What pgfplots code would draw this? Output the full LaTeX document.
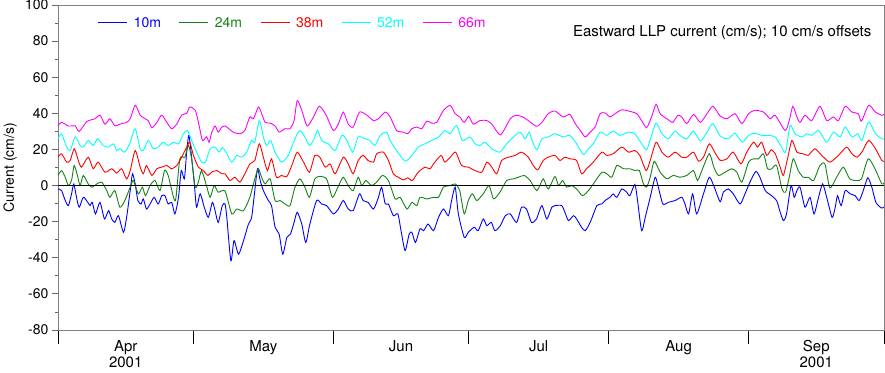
\documentclass[border=0pt]{standalone}
\usepackage{pgfplots}
\pgfplotsset{compat=1.18}
\usepackage{fontspec}
\setmainfont{TeX Gyre Heros}
\definecolor{mygreen}{RGB}{20,130,20}
\definecolor{myblue}{RGB}{0,0,255}
\definecolor{myred}{RGB}{255,0,0}
\definecolor{mycyan}{RGB}{0,255,255}
\definecolor{mymagenta}{RGB}{255,0,255}
\begin{document}
\begin{tikzpicture}
\begin{axis}[
 at={(58pt,42pt)}, anchor=south west,
 scale only axis, width=826pt, height=325pt,
 xmin=0, xmax=183, ymin=-80, ymax=100,
 clip=false,
 axis line style={black!50, line width=0.8pt},
 xtick={0,30,61,91,122,153,183}, xticklabels={},
 ytick={-80,-60,...,100}, minor y tick num=1,
 tick align=outside, tick pos=left,
 major tick length=6pt, minor tick length=3.5pt,
 xtick style={/pgfplots/major tick length=14pt, black, line width=0.8pt},
 ytick style={black!60, line width=0.8pt},
 yticklabel style={font=\fontsize{14}{16}\selectfont},
 /pgf/number format/assume math mode=true,
 ylabel={Current (cm/s)},
 every axis y label/.style={at={(axis description cs:-0.058,0.5)}, rotate=90, anchor=center, font=\fontsize{14}{16}\selectfont},
 legend style={at={(0.048,0.945)}, anchor=west, draw=none, fill=none, inner sep=0pt, legend columns=5, font=\fontsize{14}{16}\selectfont, /tikz/every odd column/.style={column sep=4pt}, /tikz/every even column/.style={column sep=16pt}},
 legend image code/.code={\draw[#1] (0pt,0pt) -- (29pt,0pt);},
 every axis plot/.append style={line width=0.9pt},
]
% 10m
\addplot[myblue, smooth, tension=0.4] coordinates {
(0,-1.9)(0.8,-2.8)(1.6,-8.3)(2.3,-11.1)(3,-4.6)(3.5,0.9)(4.1,-6.5)(4.7,-12)(5.6,-6.5)(6.6,-9.3)(7.1,-11.1)(7.6,-9.3)(8.3,-15.7)(9.3,-9.3)(10.3,-18.5)(11.2,-13.9)(11.9,-18.5)(12.6,-20.4)(13.4,-16.7)(14.5,-25.9)(15.2,-17.6)(16,-2.8)(16.5,6.5)(17.1,0.9)(17.7,-8.3)(18.4,-10.2)(18.9,-7.4)(19.6,-13)(20.4,-10.2)(21.3,-6.5)(22.2,-10.2)(23,-5.6)(23.7,-5.6)(24.4,-10.2)(25.2,-9.3)(25.9,-15.7)(26.7,-6.5)(27.3,8.3)(28,3.7)(28.5,18.5)(29,27.8)(29.6,15.7)(30.2,0.9)(30.7,-12)(31.5,-4.6)(32.4,-12)(33.3,-17.6)(34.2,-9.3)(34.8,-13.9)(35.5,-20.4)(36.4,-11.1)(37,-10.2)
(37.4,-17.6)(38.3,-41.7)(39,-30.5)(40,-38)(41.1,-30.5)(42.2,-21.3)(42.9,-17.6)(43.6,-2.8)(44.2,9.3)(44.8,2.8)(45.5,-2.8)(46.6,-8.3)(47.3,-11.1)(48.1,-23.1)(49,-26.9)(49.8,-38)(50.7,-28.7)(51.5,-26.9)(52.3,-20.4)(53,-14.8)(54,-21.3)(54.9,-31.5)(55.8,-21.3)(57.3,-8.3)(58.4,-10.2)(59.5,-11.1)(61,-15.7)(62.1,-13)(63.2,-8.3)(64.3,-13)(65.4,-13.9)(66.8,-4.6)(67.6,-8.3)(68.7,-9.3)(69.9,-13)(71,-6.5)(71.7,-0.9)(72.5,-10.2)(73.2,-10.2)
(74.3,-16.7)(75.3,-15.7)(76,-25)(76.9,-36)(77.8,-26.9)(78.4,-25.9)(79.2,-31.5)(80.2,-24)(81,-25)(82,-21.3)(83.2,-25)(84.3,-17.6)(85.4,-13)(86.5,-16.7)(87.2,-8.3)(88,-0.9)(88.7,-15.7)(90,-28.7)(90.9,-25.9)(92.2,-23.1)(93.1,-25)(94.2,-18.5)(95,-22.2)(96,-20.4)(96.8,-25)(98,-22.2)(99.1,-16.7)(100.2,-15.7)(101.6,-20.4)(102.7,-12)(103.8,-13)(104.9,-20.4)(106,-18.5)(107.2,-11.1)(108.3,-18.5)(109.4,-12)(110.1,-11.1)
(111.6,-11.1)(112.3,-14.8)(113.1,-19.4)(114.2,-16.7)(114.9,-18.5)(116,-23.1)(116.8,-25)(117.9,-20.4)(119.4,-11.1)(120.5,-10.2)(121.2,-8.3)(122.3,-6.5)(123,-4.6)(123.8,-6.5)(124.9,-1.9)(126,-3.7)(126.7,-5.6)(127.8,0.6)(128.4,-8.3)(129.3,-25)(130.1,-17.6)(131.2,-6.5)(132.3,4.6)(133,-0.9)(134,-10.2)(135.2,-9.3)(136.7,-8.3)(138.2,-6.5)(138.9,-10.2)(139.7,-15.7)(140.6,-4.6)(141.5,-15.7)(143,-4.6)(144.3,4.6)(145.4,-0.9)(146.7,-9)
(147.4,-3.7)(148.5,-1.9)(149.6,-4.6)(151.1,-10.2)(152.2,-4.6)(153.3,1.9)(154.6,7.8)(155.5,4.6)(156.7,-2.8)(158.1,-5.6)(159.2,-8.3)(159.9,-13.9)(160.7,-19.4)(161.4,-15.7)(162.4,0)(163.1,-6.5)(163.7,-2.8)(164.4,-0.9)(165.5,-12)(166.6,-6.5)(167.5,-15.7)(168.5,-6.5)(169.4,0.9)(170.3,-6.5)(171.5,-17.6)(172.2,-12)(172.7,-5.6)(173.5,-11.1)(174.4,-2.8)(175.5,-4.6)(176.6,-5.6)(177.5,-8.3)(178.4,-2.8)(179.4,4.3)(180.3,-0.9)(181.2,-9.3)(182.4,-12.4)(183,-12)
};
\addlegendentry{\textcolor{myblue}{10m}}
% 24m
\addplot[mygreen, smooth, tension=0.4] coordinates {
(0,5.6)(0.8,8.3)(1.6,4.6)(2.3,0)(3,2.8)(3.6,11.1)(4.4,4.6)(4.9,0)(5.6,5.6)(6.7,0.9)(7.5,-0.9)(8.6,0.9)(9.7,1.9)(10.8,-2.8)(11.5,-6.5)(12.6,-2.8)(13.7,-12)(14.8,-8.3)(16,-0.9)(16.7,2.8)(17.8,-4.6)(18.7,-0.9)(19.4,-5.6)(20.4,0)(21.5,2.8)(22.6,-2.8)(23.6,8.3)(24.4,5.6)(25.6,-6.5)(26.1,-7.4)(27,14.8)(28.1,15.7)(28.9,22.2)(29.6,14.8)(30.4,-0.9)(31.1,1.9)(31.8,8.3)(32.9,0)(33.7,-6.5)(34.6,0)(35.5,-3.7)(37,-3)
(38.5,-15.7)(39.6,-13)(41.1,-13.9)(42.5,-6.5)(43.6,3.7)(44.4,9.3)(45.1,4.6)(45.9,0.9)(47,3.7)(48.1,-8.3)(49.2,-8.3)(50.3,-10.2)(51.4,-11.1)(52.5,-0.9)(53.6,3.7)(54.7,-0.9)(55.7,-6.5)(56.9,3.7)(58,5)(59.5,3.7)(60.8,-6.5)(62,-0.9)(63.2,4.6)(64.3,0)(65.4,-2.8)(66.5,4.6)(67.3,0)(68.2,2.8)(69.5,0)(70.6,1.9)(71.9,5.6)(73.2,2.8)
(74.7,-7.4)(75.8,-6.5)(77.3,-13)(78.4,-9.3)(79.5,-11.1)(80.2,-6.5)(81.7,-7.4)(83.2,-6.5)(84.3,-6.5)(85.4,-0.9)(86.9,0)(88,0.9)(89,-2.8)(90,-15.7)(90.9,-8.3)(91.8,-4.6)(92.8,-8.3)(94.2,-4.6)(95.5,0)(96.5,-7.4)(97.9,-3.7)(99.4,2.8)(100.9,3.7)(102,4.6)(103.3,5.6)(104.6,2.8)(106.1,-2.8)(107.5,3.7)(108.6,-1.9)(110.1,5)
(110.9,0)(111.8,2.8)(112.7,-0.9)(113.8,0)(114.9,-1.9)(116.2,-5.6)(117.5,-2.8)(118.6,0.9)(120.5,7.4)(121.6,6.5)(122.7,4.6)(123.8,11.1)(125.3,9.3)(126.7,9.3)(127.8,8.3)(128.8,8.3)(129.7,0.9)(130.4,-0.9)(131.2,4.6)(132.1,13.5)(133.4,7.4)(134.9,3.7)(136.3,5.6)(137.8,4.6)(139.3,5.6)(140.8,8.3)(141.7,2.8)(142.8,9.3)(144.3,17.6)(145.3,10.2)(146.3,5.6)
(147.8,7.4)(149.3,9.3)(150.4,7.4)(151.5,1.9)(153,13)(154.1,14.8)(155.2,14.8)(156.3,17.6)(157.2,9.3)(158.1,9.3)(159.2,11.1)(160.4,-1.9)(161.2,-3.7)(162,4.6)(162.9,14.8)(164,8.3)(165.1,4.6)(166.2,4.6)(167.4,2.8)(168.8,11.1)(169.9,12)(171,-1.3)(172.5,4.6)(174,10.2)(175.4,3.7)(176.9,2.8)(178,3.7)(179.5,14.8)(181,9.3)(182.5,0.9)(183,1.5)
};
\addlegendentry{\textcolor{mygreen}{24m}}
% 38m
\addplot[myred, smooth, tension=0.4] coordinates {
(0,15.7)(0.8,17.6)(1.9,13)(2.7,13.9)(3.6,20.4)(4.5,13.9)(5.2,10.2)(6.7,15.7)(7.8,9.3)(8.9,13)(10.4,7.4)(11.9,9.3)(13,6.9)(14.1,9.3)(15.2,3.7)(16,8.3)(17.1,19.4)(18.2,10.2)(18.9,6.5)(19.6,11.1)(20.8,5.6)(21.9,9.3)(23,10.2)(24.1,11.1)(25.2,9.3)(26.3,11.1)(27.4,15.7)(28.5,21.3)(29.2,24)(30,16.7)(31.1,10.2)(32.2,8.3)(33.2,5.6)(34,7.4)(35.2,8.3)(36.3,6.5)(37,6.5)
(38.1,2.8)(39.2,4.6)(40.3,1.9)(41.4,6.5)(42.5,12)(43.6,13.9)(44.6,23.1)(45.5,15.7)(46.4,8.3)(47.3,14.8)(48.4,4.6)(49.5,5.6)(50.7,5)(51.8,11.1)(53,18.5)(54.4,13)(55.7,7.4)(56.9,16.7)(58,15.7)(59.2,10.2)(60.3,12)(61.4,6.5)(63.2,15.7)(64.3,12)(65.4,6.5)(66.5,13.9)(67.6,16.7)(68.7,13.9)(69.9,13)(70.6,17.6)(72.1,18.5)(73.2,13.9)
(74.3,6.5)(75.4,4.6)(76.5,3.1)(77.5,4.3)(78.5,2.8)(79.8,7.4)(81.3,10.2)(82.4,9.3)(83.5,13)(84.9,16.7)(85.7,13)(86.9,15.7)(88.1,18.5)(89.4,11.1)(90.9,10.2)(92.4,8.3)(93.9,7.4)(95,13)(96.1,10.2)(97.2,6.5)(98.3,13.9)(99.8,15.7)(101.3,16.7)(102.7,18.5)(104.2,15.7)(105.3,11.1)(106.3,8.7)(107.5,13.9)(108.6,15.7)(110.1,16.7)
(111.2,13.9)(112.3,15.7)(113.4,14.8)(114.9,13.9)(116,6.5)(117.1,9.3)(118.6,13)(120.5,18.5)(121.6,16.7)(123,17.6)(124.9,21.3)(126.4,18.5)(127.8,19.4)(128.9,16.7)(130.3,8.3)(131.2,13.9)(132.5,24)(133.8,18.5)(135.2,15.7)(136.7,18.5)(138.2,15.7)(139.3,15.7)(140.8,18.5)(141.9,13.5)(143,15.7)(144.3,23.1)(145.6,18)(146.7,14)
(148.2,14.8)(149.6,18.5)(151.3,12)(152.6,18.5)(154.1,24)(155,21.3)(155.9,24)(157,16.7)(158,19.8)(158.9,17.6)(160,10.2)(160.7,5.6)(161.7,15.7)(162.6,25)(163.7,18.5)(165.1,17.6)(166.2,16.7)(167.7,20.4)(169.2,16.7)(171,13)(172.9,16.7)(174.7,21.3)(175.9,17.6)(177,15.7)(178.1,18.5)(179.6,25)(181.1,20.4)(182.5,13.9)(183,13.5)
};
\addlegendentry{\textcolor{myred}{38m}}
% 52m
\addplot[mycyan, smooth, tension=0.4] coordinates {
(0,25.9)(0.8,28.7)(1.9,21.3)(2.7,19.4)(3.8,26.9)(4.9,22.2)(5.6,21.3)(6.7,25)(7.8,22.2)(8.8,25.9)(10,22.2)(11.2,21.3)(12.3,23.1)(13,19.4)(13.7,20.4)(14.8,18.5)(16,24)(17.1,31.5)(18.2,20.4)(18.9,19.4)(20,25)(21.1,20.4)(22.2,21.3)(23.3,24)(24.4,22.2)(25.6,24)(26.7,23.1)(27.8,28.7)(28.7,30.5)(29.6,25)(30.7,18.5)(31.8,13)(32.7,13)(33.7,20.4)(34.8,21.3)(35.7,18.5)(36.4,21)(37.2,18.5)
(38.5,13)(39.6,16.7)(40.7,15.7)(41.8,18.5)(42.9,25)(43.6,24)(44.6,36)(45.5,26.9)(46.2,22.2)(47.1,25)(48.1,18.5)(49.5,13)(51,16.7)(52.5,25.9)(53.6,30.5)(54.7,26.9)(55.7,22.2)(56.6,25)(57.5,30.5)(58.4,25)(59.9,23.1)(61.4,19.4)(62.9,27.8)(64,25)(65.3,18.5)(66.5,26.9)(68,25.9)(69.1,25)(70.2,22.2)(71.4,27.8)(72.8,29.6)
(73.6,25)(75,19.4)(76.9,13.5)(78.4,16.7)(79.8,21.3)(81.3,23.1)(82.8,25)(84.3,26.9)(85.7,30.5)(86.9,28.7)(88.3,33.3)(89.6,25)(91.3,26.9)(92.4,23.1)(93.5,22.2)(94.6,24)(96.1,20.4)(97.9,18.5)(99.4,23.1)(100.9,26.9)(102.4,29.6)(103.5,25.9)(104.4,29.6)(105,25)(106.1,19.8)(107.2,25.9)(108.6,26.9)(110.1,28.7)
(111.9,26.9)(113.4,27.8)(114.9,23.1)(116.4,17.2)(117.5,20.4)(118.6,23.1)(120.1,29.6)(121.6,27.8)(123,30.2)(124.5,27.8)(126.4,29.6)(127.8,28.7)(129.3,23.1)(130.4,19.8)(131.4,26.9)(132.5,34.6)(133.8,28.7)(135.2,25.9)(136.7,30.2)(137.8,27.8)(139.3,25.9)(140.8,30.2)(142.3,24.6)(143.8,29.6)(145.1,34.3)(146.7,27.5)
(148.5,25.9)(150,29)(151.6,24)(153,27.8)(154.3,29)(155.9,27.8)(157.4,27.8)(158.9,26.9)(160.3,21.3)(161.2,18.5)(162.2,33.3)(163.3,28.7)(164.8,26.9)(165.9,28.7)(167,27.8)(168.5,30.5)(170.3,24)(171.8,29.6)(173.3,26.9)(174.4,32.4)(175.9,26.9)(177.2,28.7)(178.1,25)(179.6,35.2)(181.1,28.7)(182.5,25.9)(183,25.9)
};
\addlegendentry{\textcolor{mycyan}{52m}}
% 66m
\addplot[mymagenta, smooth, tension=0.4] coordinates {
(0,33)(0.8,35)(2.3,33)(3.8,33)(4.7,30)(6.4,35.5)(8.2,37)(9.3,39)(10.4,34)(11.5,37)(12.6,33)(13.7,34)(15.2,35)(16,37)(17.1,44.5)(18.2,39)(19.3,37)(20,36)(20.8,32)(21.9,35)(23,39)(24.1,35)(25.2,31.5)(26.3,34)(27.4,39)(28.5,40)(29.2,43.5)(30.4,41.7)(31.2,34)(32,25)(32.9,27)(33.5,24)(34,29)(34.8,33)(35.5,29.6)(36.3,32.4)(37,33)
(37.4,32.4)(38.8,29.6)(40.3,28.7)(41.4,30.5)(42.5,38)(43.3,37)(44.4,43.5)(45.1,40)(45.9,35)(47,34.6)(48.1,33)(49,29.6)(50.3,31.5)(51.4,31.5)(52.3,36)(53,47)(54,41.7)(55.2,33)(56.6,38)(57.9,44)(59.4,39)(61,30.5)(62.1,34)(63.2,40.7)(64.3,34)(65.4,32.4)(66.8,40.7)(68.4,39)(69.9,36)(71,37)(72.5,40.7)
(73.6,38)(75,30.5)(76.5,29.6)(77.5,28.7)(78.4,31.5)(79.5,32.4)(80.6,31.5)(81.7,35.7)(82.8,34.6)(83.9,35)(85.4,41.7)(86.9,44.4)(88,39.8)(89,38)(90,35)(91,38.3)(92,34)(93.5,36)(95,36)(96.1,34)(97.9,28)(99,31.5)(100.2,37)(101.3,38.9)(102.7,38.3)(104.2,36)(106,32.8)(107.2,35)(108.6,39.8)(110.1,41.3)
(111.9,38)(113.4,39.4)(114.6,34.3)(115.7,30.5)(116.8,26.9)(117.9,29.6)(119,32.4)(120.1,39.8)(121.2,40.2)(122.3,38)(123.4,39.8)(124.9,42)(126.4,41.3)(128.2,39.8)(129.3,36)(130.4,32)(131.5,38)(132.5,45)(133.4,39.8)(134.9,37)(136.2,35)(137.3,38.9)(138.2,38)(139.3,34.3)(140.8,39.4)(142.3,35)(143.8,39.8)(145.1,43.9)(146.7,38.5)
(148.2,37)(150,39.8)(151.5,34.3)(153,39.8)(154.4,41.7)(156.3,40.7)(157.8,37)(158.9,38.9)(161.1,30.5)(162,36)(162.8,43.9)(163.7,38)(164.4,35)(165.5,38.9)(167,36)(168.8,43.9)(170.3,36)(171.8,38)(172.9,36)(174.4,43.9)(175.9,40.7)(177.3,39.8)(178,35.7)(179.6,44.4)(181.1,40.7)(182.5,38.9)(183,39.4)
};
\addlegendentry{\textcolor{mymagenta}{66m}}
\addplot[black, forget plot, line width=0.9pt] coordinates {(0,0) (183,0)};
\node[anchor=east, font=\fontsize{15}{17}\selectfont] at (rel axis cs:0.989,0.914) {Eastward LLP current (cm/s); 10 cm/s offsets};
\node[anchor=north, align=center, inner sep=0pt, yshift=-10pt, font=\fontsize{15}{16.5}\selectfont] at (axis cs:15,-80) {Apr\\2001};
\node[anchor=north, align=center, inner sep=0pt, yshift=-10pt, font=\fontsize{15}{16.5}\selectfont] at (axis cs:45.5,-80) {May};
\node[anchor=north, align=center, inner sep=0pt, yshift=-10pt, font=\fontsize{15}{16.5}\selectfont] at (axis cs:76,-80) {Jun};
\node[anchor=north, align=center, inner sep=0pt, yshift=-10pt, font=\fontsize{15}{16.5}\selectfont] at (axis cs:106.5,-80) {Jul};
\node[anchor=north, align=center, inner sep=0pt, yshift=-10pt, font=\fontsize{15}{16.5}\selectfont] at (axis cs:137.5,-80) {Aug};
\node[anchor=north, align=center, inner sep=0pt, yshift=-10pt, font=\fontsize{15}{16.5}\selectfont] at (axis cs:168,-80) {Sep\\2001};
\end{axis}
\pgfresetboundingbox
\useasboundingbox (0,0) rectangle (885pt,372pt);
\end{tikzpicture}
\end{document}
